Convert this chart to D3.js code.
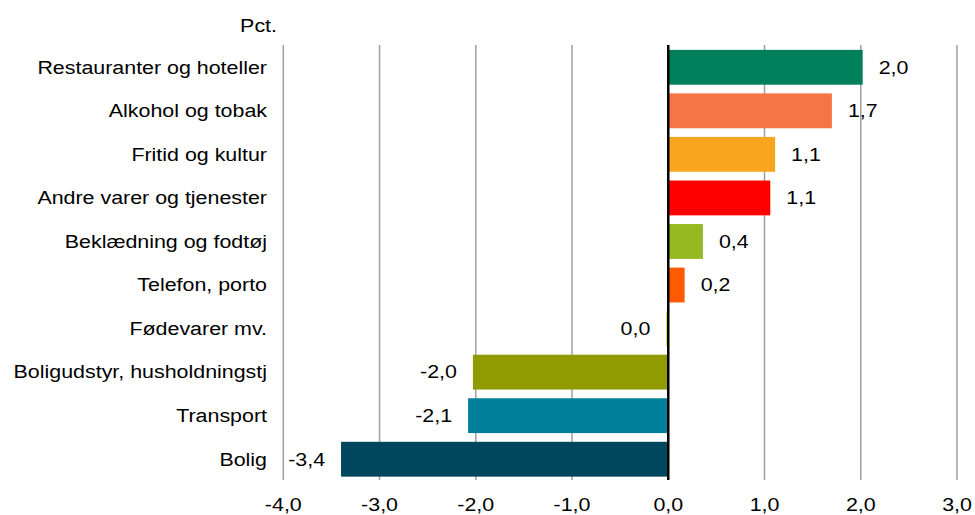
<!DOCTYPE html>
<html>
<head>
<meta charset="utf-8">
<script src="https://cdn.jsdelivr.net/npm/d3@7"></script>
<style>
  body { margin: 0; background: #fff; }
  text { font-family: "Liberation Sans", Arial, sans-serif; font-size: 18px; fill: #000; }
</style>
</head>
<body>
<svg width="975" height="515"></svg>
<script>
// data
const categories = ["Restauranter og hoteller", "Alkohol og tobak", "Fritid og kultur",
  "Andre varer og tjenester", "Beklædning og fodtøj", "Telefon, porto", "Fødevarer mv.",
  "Boligudstyr, husholdningstj", "Transport", "Bolig"];
const values = [2.02, 1.70, 1.11, 1.06, 0.36, 0.17, -0.02, -2.03, -2.08, -3.40];
const colors = ["#00805a", "#f77445", "#f9a51d", "#ff0000", "#95ba21", "#ff5a00",
  "#c8d300", "#8f9b00", "#00809a", "#00465c"];
const xTicks = [-4, -3, -2, -1, 0, 1, 2, 3];

const data = categories.map((c, i) => ({cat: c, val: values[i], color: colors[i]}));

const svg = d3.select("svg");
const stretch = 1.19; // text in the original is a bit wide

const locale = d3.formatLocale({decimal: ",", thousands: ".", grouping: [3], currency: ["", " kr"], minus: "-"});
const fmt = locale.format(".1f");

let xScale = d3.scaleLinear().domain([-4, 3]).range([283.3, 957]);
let yScale = d3.scaleBand().domain(categories).range([45.5, 481])
  .paddingInner(0.2).paddingOuter(0.1);

// gridlines
svg.append("g").attr("class", "grid")
  .selectAll("line")
  .data(xTicks.filter(d => d !== 0))
  .join("line")
  .attr("x1", d => xScale(d))
  .attr("x2", d => xScale(d))
  .attr("y1", 45)
  .attr("y2", 480)
  .attr("stroke", "#a0a0a0")
  .attr("stroke-width", 1.5);

// bars
svg.selectAll("rect.bar")
  .data(data)
  .join("rect")
  .attr("class", "bar")
  .attr("x", d => xScale(Math.min(0, d.val)))
  .attr("width", d => Math.abs(xScale(d.val) - xScale(0)))
  .attr("y", d => yScale(d.cat))
  .attr("height", yScale.bandwidth())
  .attr("fill", d => d.color);

// zero line
svg.append("line")
  .attr("x1", xScale(0))
  .attr("x2", xScale(0))
  .attr("y1", 45)
  .attr("y2", 480)
  .attr("stroke", "#000")
  .attr("stroke-width", 2.5);

// value labels
svg.selectAll("text.value")
  .data(data)
  .join("text")
  .attr("class", "value")
  .attr("text-anchor", d => d.val < 0 ? "end" : "start")
  .attr("dy", "0.35em")
  .attr("transform", d => {
    let x = d.val < 0 ? xScale(d.val) - 16 : xScale(d.val) + 16;
    return `translate(${x},${yScale(d.cat) + yScale.bandwidth() / 2}) scale(${stretch},1)`;
  })
  .text(d => fmt(d.val));

// category labels
svg.selectAll("text.cat")
  .data(data)
  .join("text")
  .attr("class", "cat")
  .attr("text-anchor", "end")
  .attr("dy", "0.35em")
  .attr("transform", d => `translate(267,${yScale(d.cat) + yScale.bandwidth() / 2}) scale(${stretch},1)`)
  .text(d => d.cat);

// x tick labels
svg.selectAll("text.tick")
  .data(xTicks)
  .join("text")
  .attr("class", "tick")
  .attr("text-anchor", "middle")
  .attr("transform", d => `translate(${xScale(d)},511) scale(${stretch},1)`)
  .text(d => fmt(d));

// unit
svg.append("text")
  .attr("text-anchor", "end")
  .attr("transform", `translate(277,32) scale(${stretch},1)`)
  .text("Pct.");
</script>
</body>
</html>
